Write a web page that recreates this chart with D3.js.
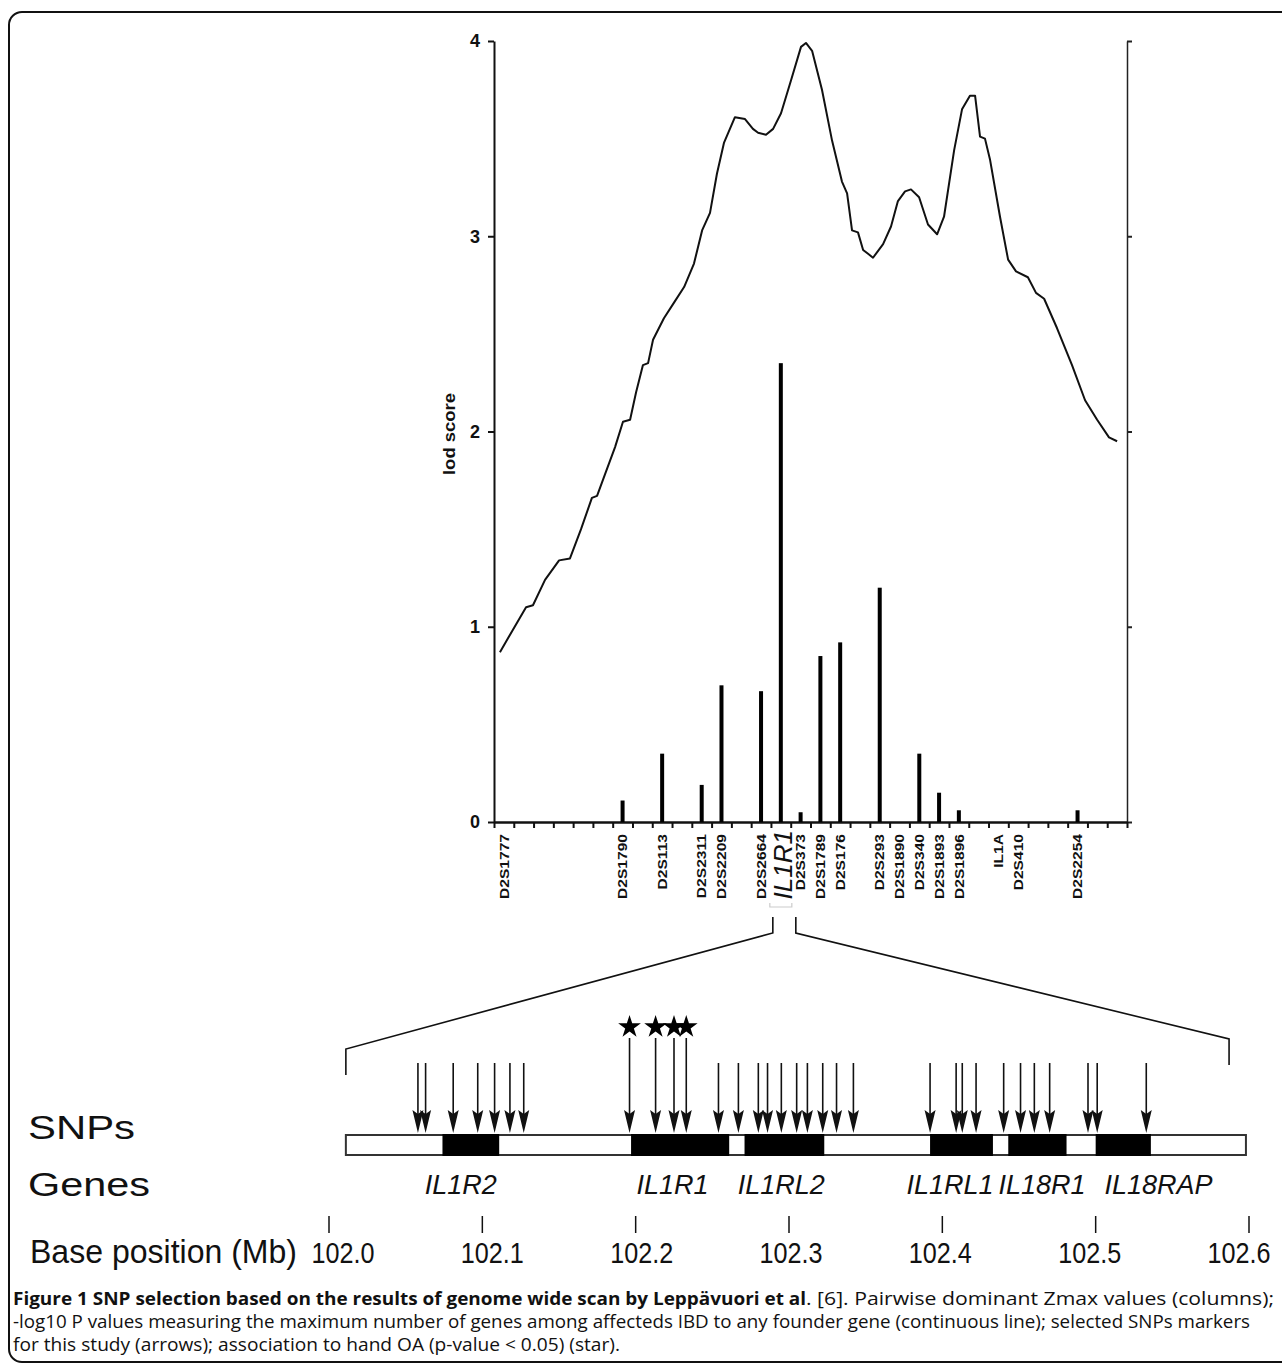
<!DOCTYPE html>
<html><head><meta charset="utf-8">
<script src="https://cdn.jsdelivr.net/npm/d3@7"></script>
<style>body{margin:0;background:#fff}svg{display:block}</style>
</head><body>
<svg id="c" width="1282" height="1365"></svg>
<script>
// ---------- DATA ----------
const markerLabels = ["D2S1777","","","","","","D2S1790","","D2S113","","D2S2311","D2S2209","","D2S2664","IL1R1",
  "D2S373","D2S1789","D2S176","","D2S293","D2S1890","D2S340","D2S1893","D2S1896","","IL1A","D2S410","","","D2S2254","",""];
const zmaxValues = [0,0,0,0,0,0,0.11,0,0.35,0,0.19,0.70,0,0.67,2.35,
  0.05,0.85,0.92,0,1.20,0,0.35,0.15,0.06,0,0,0,0,0,0.06,0,0];
const yTicks = [0,1,2,3,4];
// continuous -log10 P line: position (in marker slots) and value
const linePos = [0.30,1.62,1.97,2.58,3.29,3.84,4.40,4.95,5.21,5.61,6.12,6.52,6.88,7.18,7.53,7.79,8.04,8.59,9.10,9.61,
  10.11,10.52,10.92,11.27,11.63,12.18,12.69,13.09,13.35,13.75,14.11,14.51,15.02,15.52,15.77,16.08,16.58,17.09,17.59,17.85,
  18.10,18.40,18.66,18.91,19.16,19.67,20.07,20.42,20.78,21.08,21.49,21.94,22.40,22.75,23.26,23.66,24.06,24.32,24.57,24.82,
  25.08,25.58,25.99,26.39,26.99,27.40,27.81,28.46,29.22,29.88,30.49,31.09,31.50];
const lineVal = [0.87,1.10,1.11,1.24,1.34,1.35,1.50,1.66,1.67,1.78,1.92,2.05,2.06,2.20,2.34,2.35,2.47,2.58,2.66,2.74,
  2.86,3.03,3.12,3.32,3.48,3.61,3.60,3.55,3.53,3.52,3.55,3.63,3.80,3.97,3.99,3.95,3.75,3.49,3.28,3.22,
  3.03,3.02,2.93,2.91,2.89,2.96,3.05,3.18,3.23,3.24,3.20,3.06,3.01,3.10,3.44,3.65,3.72,3.72,3.51,3.50,
  3.39,3.10,2.88,2.82,2.79,2.71,2.68,2.53,2.34,2.16,2.06,1.97,1.95];
// SNPs (Mb)
const snpMb = [102.058,102.063,102.081,102.097,102.108,102.118,102.127,
  102.196,102.213,102.225,102.233,
  102.254,102.267,102.280,102.286,102.295,102.305,102.312,102.322,102.331,102.342,
  102.392,102.409,102.413,102.422,102.440,102.451,102.460,102.470,102.495,102.501,102.533];
const snpStar = [0,0,0,0,0,0,0, 1,1,1,1, 0,0,0,0,0,0,0,0,0,0, 0,0,0,0,0,0,0,0,0,0,0];
// genes (Mb)
const geneNames = ["IL1R2","IL1R1","IL1RL2","IL1RL1","IL18R1","IL18RAP"];
const geneStart = [102.074,102.197,102.271,102.392,102.443,102.500];
const geneEnd   = [102.111,102.261,102.323,102.433,102.481,102.536];
const geneLabelMb = [102.086,102.224,102.295,102.405,102.465,102.541];
const regionMb = [102.011,102.598];
const baseTicks = [102.0,102.1,102.2,102.3,102.4,102.5,102.6];

// ---------- DRAW ----------
const svg = d3.select("#c");
const FONT = "'Liberation Sans', Arial, sans-serif";
svg.append("rect").attr("x",9).attr("y",12).attr("width",1300).attr("height",1350)
  .attr("rx",13).attr("fill","none").attr("stroke","#111").attr("stroke-width",2);

const n = markerLabels.length;
const xTop = d3.scaleBand().domain(d3.range(n)).range([494,1127]);
const xLine = d3.scaleLinear().domain([0,n]).range([494,1127]);
const y = d3.scaleLinear().domain([0,4]).range([822,41]);
const bw = xTop.bandwidth();

// left axis
const gL = svg.append("g").attr("transform","translate(494,0)")
  .call(d3.axisLeft(y).tickValues(yTicks).tickFormat(d3.format("d")).tickSize(6).tickSizeOuter(0).tickPadding(8));
gL.select(".domain").attr("stroke-width",2).attr("stroke","#111");
gL.selectAll(".tick line").attr("stroke-width",2).attr("stroke","#111");
gL.selectAll("text").attr("font-size",18).attr("font-weight","bold").attr("font-family",FONT).attr("fill","#111");
// right axis
const gR = svg.append("g").attr("transform","translate(1127,0)")
  .call(d3.axisRight(y).tickValues(yTicks).tickFormat("").tickSize(5).tickSizeOuter(0));
gR.select(".domain").attr("stroke-width",1.5).attr("stroke","#222");
gR.selectAll(".tick line").attr("stroke-width",2).attr("stroke","#222");
// bottom axis
const gB = svg.append("g").attr("transform","translate(0,822)")
  .call(d3.axisBottom(xLine).tickValues(d3.range(n+1)).tickFormat("").tickSize(6).tickSizeOuter(0));
gB.select(".domain").attr("stroke-width",2.5).attr("stroke","#111");
gB.selectAll(".tick line").attr("stroke-width",2).attr("stroke","#111");

// y label
svg.append("text").attr("transform","translate(449,434) rotate(-90)")
  .attr("text-anchor","middle").attr("dy","0.35em").attr("font-family",FONT)
  .attr("font-weight","bold").attr("font-size",16).attr("textLength",82).attr("lengthAdjust","spacingAndGlyphs")
  .attr("fill","#111").text("lod score");

// bars
svg.append("g").selectAll("rect").data(zmaxValues.map((v,i)=>({v,i})).filter(d=>d.v>0))
  .join("rect")
  .attr("x",d=>xTop(d.i)+bw/2-2).attr("width",4)
  .attr("y",d=>y(d.v)).attr("height",d=>y(0)-y(d.v)).attr("fill","#000");

// line
const linePts = linePos.map((p,i)=>[p,lineVal[i]]);
svg.append("path").datum(linePts)
  .attr("d",d3.line().x(d=>xLine(d[0])).y(d=>y(d[1])))
  .attr("fill","none").attr("stroke","#111").attr("stroke-width",2).attr("stroke-linejoin","round");

// x labels
const lab = svg.append("g");
markerLabels.forEach((t,i)=>{
  if(!t) return;
  const cx = xTop(i)+bw/2;
  if(t==="IL1R1"){
    lab.append("text").attr("transform",`translate(${cx+2},830) rotate(-90)`)
      .attr("text-anchor","end").attr("dy","0.35em").attr("font-family",FONT)
      .attr("font-style","italic").attr("font-size",26).attr("fill","#111").text(t);
    lab.append("path").attr("d",`M${cx-11},903 V907 H${cx+11} V903`)
      .attr("fill","none").attr("stroke","#ccc").attr("stroke-width",1.2);
  } else {
    lab.append("text").attr("transform",`translate(${cx},834) rotate(-90) scale(1.2,1)`)
      .attr("text-anchor","end").attr("dy","0.36em").attr("font-family",FONT)
      .attr("font-weight","bold").attr("font-size",13).attr("fill","#111").text(t);
  }
});

// ---------- lower panel ----------
const xb = d3.scaleLinear().domain([102.0,102.6]).range([329,1249]);
const il1r1x = xTop(markerLabels.indexOf("IL1R1"))+bw/2;
const bracket = svg.append("g").attr("fill","none").attr("stroke","#111").attr("stroke-width",1.6);
bracket.append("path").attr("d",`M${il1r1x-8},917 V933 L${xb(regionMb[0])},1049 V1075`);
bracket.append("path").attr("d",`M${il1r1x+15},917 V933 L${xb(102.587)},1039 V1065`);

// gene box
svg.append("rect").attr("x",xb(regionMb[0])).attr("y",1135)
  .attr("width",xb(regionMb[1])-xb(regionMb[0])).attr("height",20)
  .attr("fill","#fff").attr("stroke","#333").attr("stroke-width",2);
svg.append("g").selectAll("rect").data(geneNames).join("rect")
  .attr("x",(d,i)=>xb(geneStart[i])).attr("width",(d,i)=>xb(geneEnd[i])-xb(geneStart[i]))
  .attr("y",1134).attr("height",22).attr("fill","#000");
svg.append("g").selectAll("text").data(geneNames).join("text")
  .attr("x",(d,i)=>xb(geneLabelMb[i])).attr("y",1194).attr("text-anchor","middle")
  .attr("font-family",FONT).attr("font-style","italic").attr("font-size",27).attr("fill","#111")
  .text(d=>d);

// SNP arrows
const ag = svg.append("g");
snpMb.forEach((m,i)=>{
  const x = xb(m);
  const y0 = snpStar[i] ? 1038 : 1063;
  ag.append("line").attr("x1",x).attr("x2",x).attr("y1",y0).attr("y2",1116)
    .attr("stroke","#111").attr("stroke-width",1.6);
  ag.append("path").attr("d",`M${x-5.5},1110 L${x},1133 L${x+5.5},1110 L${x},1114 Z`).attr("fill","#111");
  if(snpStar[i]){
    ag.append("path").attr("d",d3.symbol(d3.symbolStar,160)())
      .attr("transform",`translate(${x},1027)`).attr("fill","#000");
  }
});

// left titles
const t1 = (txt,x,yy,len)=>svg.append("text").attr("x",x).attr("y",yy).attr("font-family",FONT)
  .attr("font-size",33).attr("fill","#111").attr("textLength",len).attr("lengthAdjust","spacingAndGlyphs").text(txt);
t1("SNPs",28,1139,107);
t1("Genes",28,1196,122);
t1("Base position (Mb)",30,1263,267);

// base axis
const ba = svg.append("g");
baseTicks.forEach((v,i)=>{
  ba.append("line").attr("x1",xb(v)).attr("x2",xb(v)).attr("y1",1216).attr("y2",1233)
    .attr("stroke","#111").attr("stroke-width",1.5);
  ba.append("text").attr("x",xb(v)+14-4*i).attr("y",1263).attr("text-anchor","middle")
    .attr("font-family",FONT).attr("font-size",29).attr("fill","#111")
    .attr("textLength",63).attr("lengthAdjust","spacingAndGlyphs").text(d3.format(".1f")(v));
});

// caption
const cap = svg.append("g").attr("font-family","'Open Sans', 'Noto Sans', sans-serif").attr("font-size",18).attr("fill","#111");
const c1 = cap.append("text").attr("y",1305);
c1.append("tspan").attr("x",13).attr("font-weight","bold").attr("textLength",793).attr("lengthAdjust","spacingAndGlyphs")
  .text("Figure 1 SNP selection based on the results of genome wide scan by Leppävuori et al");
c1.append("tspan").attr("x",806).attr("textLength",468).attr("lengthAdjust","spacingAndGlyphs")
  .text(". [6]. Pairwise dominant Zmax values (columns);");
cap.append("text").attr("x",13).attr("y",1328).attr("textLength",1237).attr("lengthAdjust","spacingAndGlyphs")
  .text("-log10 P values measuring the maximum number of genes among affecteds IBD to any founder gene (continuous line); selected SNPs markers");
cap.append("text").attr("x",13).attr("y",1351).attr("textLength",607).attr("lengthAdjust","spacingAndGlyphs")
  .text("for this study (arrows); association to hand OA (p-value < 0.05) (star).");
</script>
</body></html>
